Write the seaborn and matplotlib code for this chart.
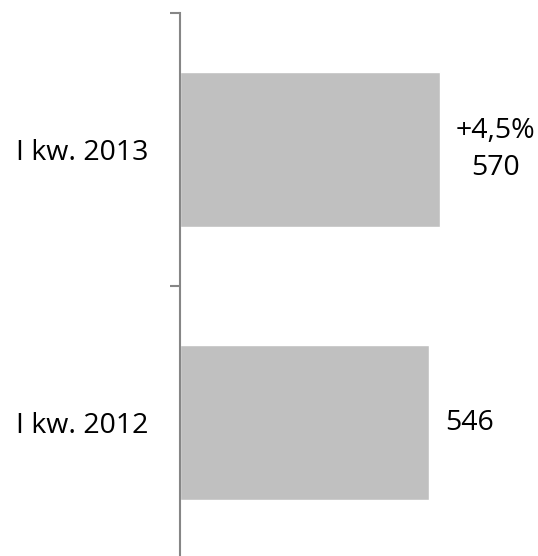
import matplotlib
matplotlib.use("Agg")
import matplotlib.pyplot as plt
import seaborn as sns
import pandas as pd
import numpy as np

categories = ["I kw. 2013", "I kw. 2012"]
values = [570, 546]
labels = ["+4,5%\n570", "546"]

sns.set_theme(style="white")
plt.rcParams['font.family'] = ['Open Sans', 'DejaVu Sans']

df = pd.DataFrame({"period": categories, "value": values})

fig = plt.figure(figsize=(5.38, 5.56), dpi=100)
W, H = 538, 556
left_px, right_px, top_px, bot_px = 180, 538, 13, 559
ax = fig.add_axes([left_px / W, (H - bot_px) / H, (right_px - left_px) / W, (bot_px - top_px) / H])

sns.barplot(data=df, y="period", x="value", order=categories, color="#C0C0C0",
            saturation=1, width=0.57, ax=ax, orient="h")

scale = 260 / 570.0
ax.set_xlim(0, (right_px - left_px) / scale)
n = len(categories)
ax.set_ylim(n - 0.5, -0.5)

for s in ["top", "right", "bottom"]:
    ax.spines[s].set_visible(False)
ax.spines["left"].set_color("#868686")
ax.spines["left"].set_linewidth(1.5)
ax.set_xticks([])
ax.set_xlabel("")
ax.set_ylabel("")

ax.set_yticks(np.arange(n + 1) - 0.5)
ax.set_yticklabels([])
ax.tick_params(axis="y", which="major", left=True, length=7.2, width=1.5,
               color="#868686", direction="out")
ax.set_yticks(np.arange(n), minor=True)
ax.set_yticklabels(categories, minor=True, fontsize=20.5, color="#000000")
ax.tick_params(axis="y", which="minor", left=True, length=0, pad=23)

for i, (v, lab) in enumerate(zip(values, labels)):
    ax.annotate(lab, xy=(v, i), xytext=(11.5, 0), textcoords="offset points",
                ha="left", va="center", multialignment="center",
                fontsize=20.5, linespacing=1.42, color="#000000")

fig.savefig("out.png", dpi=100)
